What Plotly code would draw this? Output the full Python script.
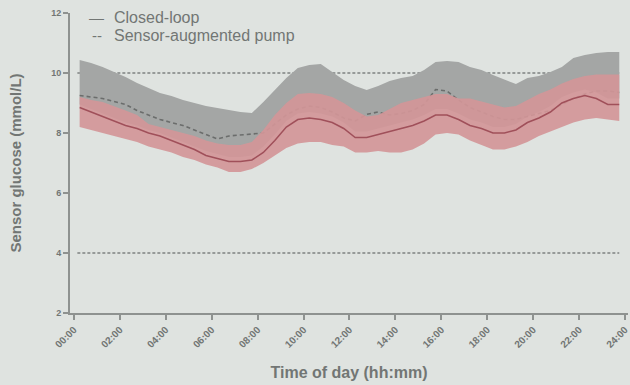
import plotly.graph_objects as go

# Time of day (hours), 30-minute bins
hours = [0.25, 0.75, 1.25, 1.75, 2.25, 2.75, 3.25, 3.75, 4.25, 4.75, 5.25, 5.75,
         6.25, 6.75, 7.25, 7.75, 8.25, 8.75, 9.25, 9.75, 10.25, 10.75, 11.25, 11.75,
         12.25, 12.75, 13.25, 13.75, 14.25, 14.75, 15.25, 15.75, 16.25, 16.75, 17.25, 17.75,
         18.25, 18.75, 19.25, 19.75, 20.25, 20.75, 21.25, 21.75, 22.25, 22.75, 23.25, 23.75]

# Closed-loop: median and interquartile range (mmol/L)
cl_median = [8.85, 8.70, 8.55, 8.40, 8.25, 8.15, 8.00, 7.90, 7.75, 7.60, 7.45, 7.25,
             7.15, 7.05, 7.05, 7.10, 7.35, 7.75, 8.20, 8.45, 8.50, 8.45, 8.35, 8.15,
             7.85, 7.85, 7.95, 8.05, 8.15, 8.25, 8.40, 8.60, 8.60, 8.45, 8.25, 8.15,
             8.00, 8.00, 8.10, 8.35, 8.50, 8.70, 9.00, 9.15, 9.25, 9.15, 8.95, 8.95]
cl_upper = [9.20, 9.10, 9.03, 8.90, 8.75, 8.60, 8.30, 8.20, 8.10, 8.00, 7.90, 7.75,
            7.65, 7.60, 7.60, 7.70, 8.10, 8.60, 9.00, 9.30, 9.33, 9.30, 9.20, 9.00,
            8.75, 8.55, 8.60, 8.80, 9.00, 9.10, 9.20, 9.30, 9.30, 9.15, 9.15, 9.05,
            8.95, 8.85, 8.90, 9.10, 9.30, 9.45, 9.65, 9.80, 9.90, 9.95, 9.95, 9.95]
cl_lower = [8.20, 8.10, 8.00, 7.90, 7.80, 7.70, 7.55, 7.45, 7.35, 7.20, 7.10, 6.95,
            6.85, 6.70, 6.70, 6.80, 7.00, 7.25, 7.50, 7.65, 7.70, 7.70, 7.60, 7.55,
            7.35, 7.35, 7.40, 7.35, 7.35, 7.45, 7.65, 7.95, 8.00, 7.95, 7.75, 7.60,
            7.45, 7.45, 7.55, 7.70, 7.90, 8.05, 8.20, 8.35, 8.45, 8.50, 8.45, 8.40]

# Sensor-augmented pump: median and interquartile range (mmol/L)
sap_median = [9.25, 9.20, 9.15, 9.05, 8.95, 8.75, 8.60, 8.45, 8.35, 8.25, 8.10, 7.95,
              7.80, 7.90, 7.93, 7.95, 8.00, 8.30, 8.60, 8.80, 8.90, 8.85, 8.70, 8.50,
              8.40, 8.62, 8.70, 8.60, 8.65, 8.75, 8.95, 9.45, 9.40, 9.10, 8.85, 8.70,
              8.55, 8.45, 8.45, 8.55, 8.65, 8.75, 8.95, 9.15, 9.30, 9.40, 9.40, 9.35]
sap_upper = [10.43, 10.33, 10.20, 10.03, 9.87, 9.67, 9.50, 9.33, 9.23, 9.10, 9.00, 8.90,
             8.83, 8.77, 8.70, 8.67, 9.03, 9.43, 9.83, 10.17, 10.27, 10.30, 10.03, 9.77,
             9.57, 9.43, 9.57, 9.73, 9.83, 9.90, 10.10, 10.37, 10.40, 10.37, 10.20, 10.10,
             9.93, 9.77, 9.63, 9.83, 9.90, 10.03, 10.20, 10.50, 10.60, 10.67, 10.70, 10.70]
sap_lower = [8.95, 8.80, 8.65, 8.50, 8.35, 8.25, 8.10, 8.00, 7.85, 7.70, 7.55, 7.40,
             7.30, 7.20, 7.20, 7.25, 7.55, 7.95, 8.40, 8.65, 8.70, 8.65, 8.55, 8.35,
             8.05, 8.05, 8.15, 8.25, 8.35, 8.45, 8.60, 8.80, 8.80, 8.65, 8.45, 8.35,
             8.20, 8.20, 8.30, 8.55, 8.70, 8.90, 9.20, 9.35, 9.45, 9.35, 9.15, 9.15]

# Target range limits (mmol/L)
thresholds = [4, 10]

x_ticks = [0, 2, 4, 6, 8, 10, 12, 14, 16, 18, 20, 22, 24]
x_tick_labels = ["00:00", "02:00", "04:00", "06:00", "08:00", "10:00", "12:00",
                 "14:00", "16:00", "18:00", "20:00", "22:00", "24:00"]
y_ticks = [2, 4, 6, 8, 10, 12]

bg = "#dfe3e0"
text_col = "#727674"
axis_col = "#8e9290"
font_family = "Liberation Sans, Arial"

fig = go.Figure()

# SAP interquartile band (grey)
fig.add_trace(go.Scatter(x=hours, y=sap_lower, mode="lines", line=dict(width=0),
                         hoverinfo="skip", showlegend=False))
fig.add_trace(go.Scatter(x=hours, y=sap_upper, mode="lines", line=dict(width=0),
                         fill="tonexty", fillcolor="#a4a6a5",
                         hoverinfo="skip", showlegend=False))
# SAP median
fig.add_trace(go.Scatter(x=hours, y=sap_median, mode="lines",
                         line=dict(color="#6b6d6c", width=1.6, dash="4px,3px"),
                         name="Sensor-augmented pump", showlegend=False))

# Closed-loop interquartile band (pink)
fig.add_trace(go.Scatter(x=hours, y=cl_lower, mode="lines", line=dict(width=0),
                         hoverinfo="skip", showlegend=False))
fig.add_trace(go.Scatter(x=hours, y=cl_upper, mode="lines", line=dict(width=0),
                         fill="tonexty", fillcolor="rgba(210,150,152,0.92)",
                         hoverinfo="skip", showlegend=False))
# Closed-loop median
fig.add_trace(go.Scatter(x=hours, y=cl_median, mode="lines",
                         line=dict(color="#a0505a", width=1.5),
                         name="Closed-loop", showlegend=False))

# Dotted target range lines
for th in thresholds:
    fig.add_shape(type="line", xref="x", yref="y", layer="below",
                  x0=min(hours) - 0.1, x1=max(hours), y0=th, y1=th,
                  line=dict(color="#7f8381", width=1.3, dash="3px,2px"))

# Legend drawn as text
legend_items = [("—", "Closed-loop"), ("--", "Sensor-augmented pump")]
for i, (glyph, label) in enumerate(legend_items):
    yy = 0.985 - i * 0.06
    fig.add_annotation(xref="paper", yref="paper", x=0.048, y=yy, xanchor="center",
                       yanchor="middle", text=glyph, showarrow=False,
                       font=dict(family=font_family, size=15, color=text_col))
    fig.add_annotation(xref="paper", yref="paper", x=0.076, y=yy, xanchor="left",
                       yanchor="middle", text=label, showarrow=False,
                       font=dict(family=font_family, size=16, color=text_col))

fig.update_layout(
    width=630, height=385,
    margin=dict(l=70, r=0, t=13, b=72),
    paper_bgcolor=bg, plot_bgcolor=bg,
    showlegend=False,
    xaxis=dict(
        range=[-0.17, 24.13], tickmode="array", tickvals=x_ticks, ticktext=x_tick_labels,
        tickangle=-45, ticks="outside", ticklen=5, tickwidth=2, tickcolor=axis_col,
        ticklabeloverflow="allow",
        showline=True, linecolor=axis_col, linewidth=2, showgrid=False, zeroline=False,
        tickfont=dict(family=font_family, size=10, color=text_col, weight="bold"),
        title=dict(text="<b>Time of day (hh:mm)</b>", standoff=18,
                   font=dict(family=font_family, size=16, color=text_col)),
    ),
    yaxis=dict(
        range=[2, 12], tickmode="array", tickvals=y_ticks,
        ticks="outside", ticklen=5, tickwidth=2, tickcolor=axis_col,
        showline=True, linecolor=axis_col, linewidth=2, showgrid=False, zeroline=False,
        tickfont=dict(family=font_family, size=9, color=text_col, weight="bold"),
        title=dict(text="<b>Sensor glucose (mmol/L)</b>", standoff=26,
                   font=dict(family=font_family, size=15, color=text_col)),
    ),
)

fig.write_html("out.html")
